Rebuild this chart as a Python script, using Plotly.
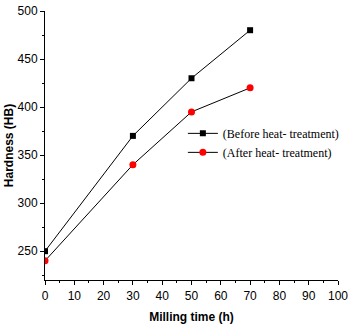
import plotly.graph_objects as go

milling_time = [0, 30, 50, 70]
hardness_before = [250, 370, 430, 480]
hardness_after = [240, 340, 395, 420]

fig = go.Figure()
fig.add_trace(go.Scatter(
    x=milling_time, y=hardness_before, mode="lines+markers",
    name="(Before heat- treatment)",
    line=dict(color="black", width=1),
    marker=dict(symbol="square", size=6, color="black"),
))
fig.add_trace(go.Scatter(
    x=milling_time, y=hardness_after, mode="lines+markers",
    name="(After heat- treatment)",
    line=dict(color="black", width=1),
    marker=dict(symbol="circle", size=7, color="red"),
))

tick_font = dict(family="Liberation Sans Narrow, Arial Narrow, Liberation Sans", size=12, color="black")
title_font = dict(family="Liberation Sans, Arial", size=12, color="black")

fig.update_layout(
    width=355, height=330,
    margin=dict(l=45, r=14, t=11, b=50),
    plot_bgcolor="white", paper_bgcolor="white",
    showlegend=True,
    legend=dict(
        x=1.02, y=0.599, xanchor="right", yanchor="top",
        font=dict(family="Liberation Serif, Times New Roman", size=12, color="black"),
        bgcolor="rgba(0,0,0,0)", tracegroupgap=0, itemwidth=30,
    ),
)
fig.update_xaxes(
    range=[0, 100], dtick=10, tick0=0,
    showline=True, linecolor="black", linewidth=1,
    ticks="outside", ticklen=4, tickcolor="black",
    minor=dict(ticks="outside", ticklen=2, dtick=5, tickcolor="black"),
    showgrid=False, zeroline=False, automargin=False,
    tickfont=tick_font, ticklabelstandoff=1, ticklabeloverflow="allow",
    title=dict(text="<b>Milling time (h)</b>", font=title_font, standoff=10),
)
fig.update_yaxes(
    range=[220, 500], dtick=50, tick0=250,
    showline=True, linecolor="black", linewidth=1,
    ticks="outside", ticklen=4, tickcolor="black",
    minor=dict(ticks="outside", ticklen=2, dtick=25, tickcolor="black"),
    showgrid=False, zeroline=False, automargin=False,
    tickfont=tick_font, ticklabeloverflow="allow",
    title=dict(text="<b>Hardness (HB)</b>", font=title_font, standoff=1),
)

# drop the default 8px page margin so the figure sits at the window corner
fig.write_html("out.html", config={"displayModeBar": False},
               post_script="document.body.style.margin='0px';")
